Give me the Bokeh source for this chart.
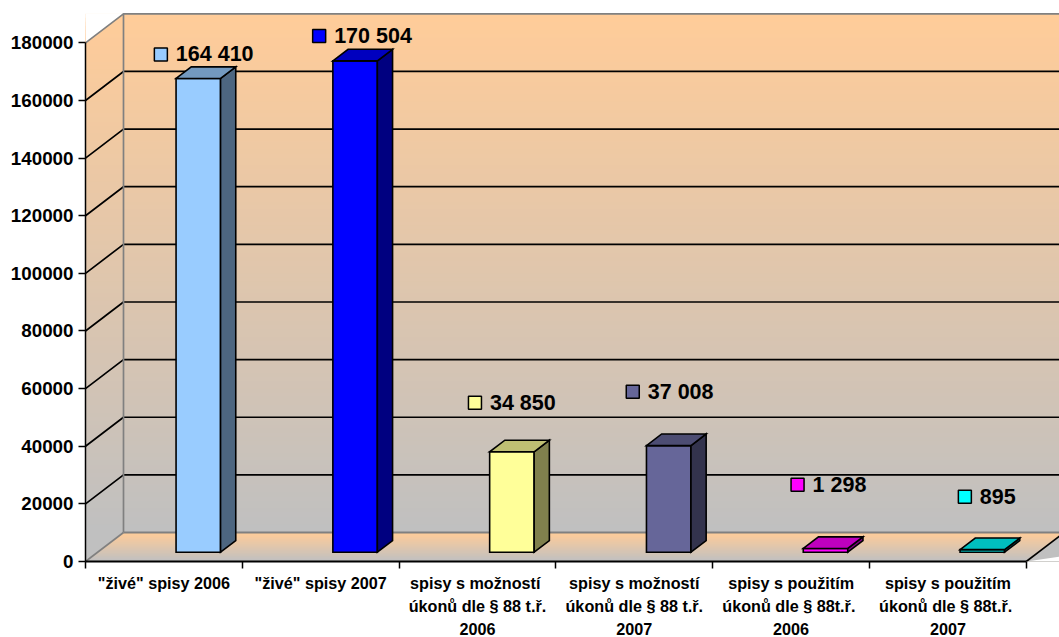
from bokeh.plotting import figure
from bokeh.models import FixedTicker, NumeralTickFormatter
from bokeh.core.properties import value
from bokeh.embed import file_html
from bokeh.resources import INLINE

# ---- data ----
categories = ['"živé" spisy 2006', '"živé" spisy 2007',
              'spisy  s možností\núkonů dle § 88 t.ř.\n2006',
              'spisy s možností\núkonů dle § 88 t.ř.\n2007',
              'spisy s použitím\núkonů  dle § 88t.ř.\n2006',
              'spisy s použitím\núkonů  dle § 88t.ř.\n2007']
values = [164410, 170504, 34850, 37008, 1298, 895]
value_labels = ["164 410", "170 504", "34 850", "37 008", "1 298", "895"]
y_ticks = [0, 20000, 40000, 60000, 80000, 100000, 120000, 140000, 160000, 180000]

# ---- style ----
front = ["#99CCFF", "#0000FF", "#FFFF99", "#666699", "#FF00FF", "#00FFFF"]
side = ["#4D6680", "#000080", "#80804D", "#33334D", "#800080", "#008080"]
top = ["#7399BF", "#0000BF", "#BFBF73", "#4D4D73", "#BF00BF", "#00BFBF"]
label_dx = [-15.2, -13.7, -14.7, -13.7, -5.7, 4.8]
label_dy = [-24, -24.9, -49, -53.8, -63.8, -52.9]
PX_X, PX_Y = 156.8, 20000 / 57.63       # pixels per category, units per pixel
FRAME_W, FRAME_H = 974, 558
DX, DY = 38 / PX_X, 29 * PX_Y           # full depth of the chart box
D1, D2 = 0.32, 0.72                     # depth span of a bar
BAR_W = 44.5 / PX_X
TOP_Y = max(y_ticks)
N = len(categories)


def proj(x, y, d):
    return x + d * DX, y + d * DY


def mix(t):
    a, b = (255, 204, 153), (192, 192, 192)
    return "#%02X%02X%02X" % tuple(round(a[k] + (b[k] - a[k]) * t) for k in range(3))


p = figure(width=1059, height=637, frame_width=FRAME_W, frame_height=FRAME_H,
           output_backend="svg", toolbar_location=None,
           x_range=(0, FRAME_W / PX_X), y_range=(0, FRAME_H * PX_Y),
           min_border_left=85, min_border_right=0, min_border_top=3, min_border_bottom=76,
           outline_line_color=None, background_fill_color="white", border_fill_color="white")
p.grid.visible = False

# walls (vertical gradient)
steps = 130
y_hi = TOP_Y + DY
xmax = FRAME_W / PX_X
p.quad(left=0, right=xmax,
       top=[y_hi - (y_hi - DY) * i / steps for i in range(steps)],
       bottom=0,
       fill_color=[mix(i / (steps - 1)) for i in range(steps)], line_color=None)
# outside the left wall's upper corner
p.patch([0, DX, 0], [TOP_Y, y_hi, y_hi], fill_color="white", line_color=None)
p.quad(left=0, right=xmax, bottom=y_hi, top=FRAME_H * PX_Y, fill_color="white", line_color=None)

# floor
fsteps = 28
fx, fy = [], []
for i in range(fsteps):
    d = 1 - i / fsteps
    x0, y0 = proj(0, 0, d)
    x1, _ = proj(N, 0, d)
    x2, _ = proj(N, 0, 0)
    fx.append([x0, x1, x2, 0])
    fy.append([y0, y0, 0, 0])
p.patches(fx, fy, fill_color=[mix(i / (fsteps - 1)) for i in range(fsteps)], line_color=None)
# white outside right of floor
xr0, _ = proj(N, 0, 0)
xr1, yr1 = proj(N, 0, 1)
p.patch([xr0, xr1 + 1, xr1 + 1], [0, yr1, 0], fill_color="white", line_color=None)

# gridlines
for t in y_ticks[1:-1]:
    x0, y0 = proj(0, t, 0)
    x1, y1 = proj(0, t, 1)
    p.line([x0, x1, xmax], [y0, y1, y1], line_color="black", line_width=1.7)

# wall borders
bx, by = proj(0, 0, 1)
tx, ty = proj(0, TOP_Y, 1)
p.line([0, tx, xmax], [TOP_Y, ty, ty], line_color="#808080", line_width=1.7)
p.line([tx, bx], [ty, by], line_color="#808080", line_width=1.7)
p.line([bx, xmax], [by, by], line_color="#808080", line_width=2)
p.line([0, bx], [0, by], line_color="#808080", line_width=1.7)
p.line([xr0, xr1], [0, yr1], line_color="black", line_width=1.7)

# bars
for i, v in enumerate(values):
    xl = i + 0.5
    xr = xl + BAR_W
    a = proj(xl, 0, D1)
    b = proj(xr, 0, D1)
    c = proj(xr, v, D1)
    e = proj(xl, v, D1)
    f = proj(xr, 0, D2)
    g = proj(xr, v, D2)
    h = proj(xl, v, D2)
    kw = dict(line_color="black", line_width=1.6, line_join="miter")
    p.patch([a[0], b[0], c[0], e[0]], [a[1], b[1], c[1], e[1]], fill_color=front[i], **kw)
    p.patch([b[0], f[0], g[0], c[0]], [b[1], f[1], g[1], c[1]], fill_color=side[i], **kw)
    p.patch([e[0], c[0], g[0], h[0]], [e[1], c[1], g[1], h[1]], fill_color=top[i], **kw)

# value labels with legend keys
kx, ky, txt_x = [], [], []
for i, v in enumerate(values):
    ex, ey = proj(i + 0.5, v, D1)
    kx.append(ex + label_dx[i] / PX_X)
    ky.append(ey - label_dy[i] * PX_Y)
    txt_x.append(kx[-1] + 15 / PX_X)
p.scatter(kx, ky, marker="square", size=13, fill_color=front, line_color="black", line_width=1.5)
p.text(txt_x, ky, text=value_labels, text_font=value("Liberation Sans"), text_font_style="bold",
       text_font_size="21.5px", text_color="black", text_baseline="middle", text_align="left")

# axes
xa = p.xaxis[0]
xa.ticker = FixedTicker(ticks=[i + 0.5 for i in range(N)], minor_ticks=list(range(N + 1)))
xa.major_label_overrides = {i + 0.5: c for i, c in enumerate(categories)}
xa.bounds = (0, N)
xa.axis_line_color = "black"
xa.axis_line_width = 2
xa.major_tick_line_color = None
xa.minor_tick_line_color = "black"
xa.minor_tick_line_width = 1.5
xa.minor_tick_out = 7
xa.minor_tick_in = 0
xa.major_tick_out = 7
xa.major_tick_in = 0
xa.major_label_standoff = 5
xa.major_label_text_font = "Liberation Sans"
xa.major_label_text_font_style = "bold"
xa.major_label_text_font_size = "16.2px"
xa.major_label_text_line_height = 1.29
xa.major_label_text_color = "black"

ya = p.yaxis[0]
ya.ticker = FixedTicker(ticks=y_ticks)
ya.formatter = NumeralTickFormatter(format="0")
ya.bounds = (0, TOP_Y)
ya.axis_line_color = "black"
ya.axis_line_width = 1.5
ya.major_tick_line_color = "black"
ya.major_tick_line_width = 1.5
ya.major_tick_out = 7
ya.major_tick_in = 0
ya.minor_tick_line_color = None
ya.major_label_standoff = 5
ya.major_label_text_font = "Liberation Sans"
ya.major_label_text_font_style = "bold"
ya.major_label_text_font_size = "18.8px"
ya.major_label_text_color = "black"

open("out.html", "w").write(file_html(p, INLINE))
